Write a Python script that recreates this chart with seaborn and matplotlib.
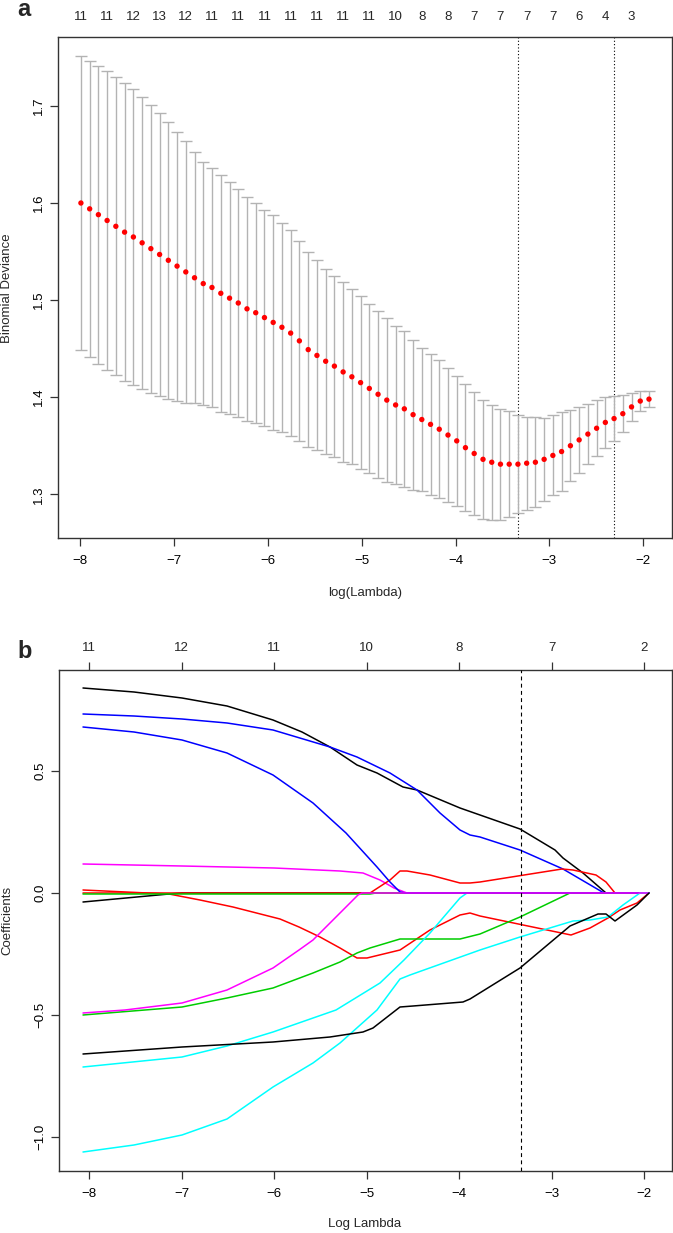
import matplotlib
matplotlib.use("Agg")
import matplotlib.pyplot as plt
import seaborn as sns

# ---- panel a: cross-validated binomial deviance ----
log_lambda = [-7.990, -7.897, -7.804, -7.711, -7.618, -7.525, -7.431, -7.338, -7.245, -7.152,
              -7.059, -6.966, -6.873, -6.780, -6.687, -6.594, -6.500, -6.407, -6.314, -6.221,
              -6.128, -6.035, -5.942, -5.849, -5.756, -5.663, -5.569, -5.476, -5.383, -5.290,
              -5.197, -5.104, -5.011, -4.918, -4.825, -4.732, -4.638, -4.545, -4.452, -4.359,
              -4.266, -4.173, -4.080, -3.987, -3.894, -3.801, -3.707, -3.614, -3.521, -3.428,
              -3.335, -3.242, -3.149, -3.056, -2.963, -2.870, -2.776, -2.683, -2.590, -2.497,
              -2.404, -2.311, -2.218, -2.125, -2.032, -1.939]
cv_mean = [1.600, 1.594, 1.588, 1.582, 1.576, 1.570, 1.565, 1.559, 1.553, 1.547,
           1.541, 1.535, 1.529, 1.523, 1.517, 1.513, 1.507, 1.502, 1.497, 1.491,
           1.487, 1.482, 1.477, 1.472, 1.466, 1.458, 1.449, 1.443, 1.437, 1.432,
           1.426, 1.421, 1.415, 1.409, 1.403, 1.397, 1.392, 1.388, 1.382, 1.377,
           1.372, 1.367, 1.361, 1.355, 1.348, 1.342, 1.336, 1.333, 1.331, 1.331,
           1.331, 1.332, 1.333, 1.336, 1.340, 1.344, 1.350, 1.356, 1.362, 1.368,
           1.374, 1.378, 1.383, 1.390, 1.396, 1.398]
cv_se = [0.1515, 0.1523, 0.1534, 0.1538, 0.1536, 0.1533, 0.1523, 0.1507, 0.1484, 0.1458,
         0.1424, 0.1386, 0.1346, 0.1295, 0.1254, 0.1231, 0.1220, 0.1196, 0.1175, 0.1151,
         0.1131, 0.1113, 0.1103, 0.1075, 0.1062, 0.1031, 0.1003, 0.0979, 0.0955, 0.0931,
         0.0923, 0.0900, 0.0894, 0.0873, 0.0859, 0.0842, 0.0814, 0.0801, 0.0773, 0.0739,
         0.0729, 0.0708, 0.0691, 0.0673, 0.0657, 0.0632, 0.0615, 0.0591, 0.0570, 0.0546,
         0.0508, 0.0481, 0.0461, 0.0426, 0.0412, 0.0405, 0.0368, 0.0343, 0.0312, 0.0286,
         0.0265, 0.0230, 0.0189, 0.0144, 0.0103, 0.0086]
nzero_top = [11, 11, 12, 13, 12, 11, 11, 11, 11, 11, 11, 11, 10, 8, 8, 7, 7, 7, 7, 6, 4, 3]
lambda_min = -3.335
lambda_1se = -2.311

# ---- panel b: coefficient paths, (log lambda, coefficient) ----
coef_black1 = [(-8.07, 0.840), (-7.52, 0.826), (-7.0, 0.799), (-6.51, 0.767), (-6.01, 0.710),
               (-5.70, 0.660), (-5.40, 0.601), (-5.11, 0.526), (-4.89, 0.492), (-4.61, 0.437),
               (-4.46, 0.423), (-3.99, 0.348), (-3.78, 0.321), (-3.34, 0.264), (-2.97, 0.178),
               (-2.88, 0.143), (-2.66, 0.085), (-2.41, 0.0), (-1.946, 0.0)]
coef_red1 = [(-8.07, 0.013), (-7.14, -0.004), (-6.80, -0.027), (-6.45, -0.055), (-5.94, -0.107),
             (-5.73, -0.137), (-5.51, -0.178), (-5.29, -0.225), (-5.11, -0.264), (-5.00, -0.266),
             (-4.64, -0.232), (-4.32, -0.150), (-3.99, -0.089), (-3.88, -0.082), (-3.78, -0.093),
             (-2.79, -0.171), (-2.59, -0.144), (-2.39, -0.103), (-2.26, -0.068), (-2.08, -0.041),
             (-1.946, 0.0)]
coef_green1 = [(-8.07, -0.497), (-7.0, -0.465), (-6.51, -0.430), (-6.01, -0.389), (-5.58, -0.328),
               (-5.29, -0.280), (-5.11, -0.246), (-4.97, -0.225), (-4.64, -0.189), (-3.99, -0.189),
               (-3.78, -0.167), (-3.34, -0.096), (-2.80, 0.0), (-1.946, 0.0)]
coef_blue1 = [(-8.07, 0.735), (-7.52, 0.726), (-7.0, 0.713), (-6.51, 0.696), (-6.01, 0.669),
              (-5.40, 0.601), (-5.11, 0.560), (-4.75, 0.492), (-4.46, 0.423), (-4.21, 0.328),
              (-3.99, 0.259), (-3.88, 0.239), (-3.78, 0.229), (-3.34, 0.177), (-2.88, 0.100),
              (-2.43, 0.0), (-1.946, 0.0)]
coef_cyan1 = [(-8.07, -0.713), (-7.0, -0.670), (-6.51, -0.627), (-6.01, -0.567), (-5.33, -0.478),
              (-4.86, -0.369), (-4.60, -0.273), (-4.32, -0.164), (-3.99, -0.020), (-3.92, 0.0),
              (-1.946, 0.0)]
coef_magenta1 = [(-8.07, 0.120), (-7.0, 0.112), (-6.0, 0.102), (-5.29, 0.093), (-5.04, 0.085),
                 (-4.86, 0.055), (-4.71, 0.020), (-4.57, 0.0), (-1.946, 0.0)]
coef_black2 = [(-8.07, -0.037), (-7.60, -0.020), (-7.14, -0.004), (-7.0, 0.0), (-1.946, 0.0)]
coef_red2 = [(-8.07, 0.0), (-4.97, 0.0), (-4.75, 0.055), (-4.64, 0.091), (-4.57, 0.093),
             (-4.32, 0.075), (-3.99, 0.043), (-3.88, 0.042), (-3.78, 0.046), (-2.89, 0.098),
             (-2.77, 0.095), (-2.52, 0.075), (-2.41, 0.048), (-2.32, 0.0), (-1.946, 0.0)]
coef_green2 = [(-8.07, -0.003), (-4.97, -0.004), (-4.90, 0.0), (-1.946, 0.0)]
coef_blue2 = [(-8.07, 0.680), (-7.52, 0.662), (-7.0, 0.628), (-6.51, 0.574), (-6.01, 0.485),
              (-5.58, 0.369), (-5.22, 0.246), (-4.89, 0.109), (-4.75, 0.048), (-4.64, 0.007),
              (-4.59, 0.0), (-1.946, 0.0)]
coef_cyan2 = [(-8.07, -1.061), (-7.52, -1.031), (-7.0, -0.990), (-6.51, -0.925), (-6.01, -0.793),
              (-5.58, -0.697), (-5.29, -0.615), (-4.89, -0.478), (-4.64, -0.352), (-4.53, -0.335),
              (-3.78, -0.232), (-3.34, -0.178), (-2.77, -0.112), (-2.59, -0.109), (-2.39, -0.096),
              (-2.23, -0.048), (-2.05, 0.0), (-1.946, 0.0)]
coef_magenta2 = [(-8.07, -0.489), (-7.61, -0.478), (-7.0, -0.451), (-6.51, -0.396), (-6.01, -0.307),
                 (-5.73, -0.232), (-5.58, -0.191), (-5.40, -0.123), (-5.22, -0.055), (-5.09, -0.007),
                 (-5.05, 0.0), (-1.946, 0.0)]
coef_black3 = [(-8.07, -0.659), (-7.0, -0.629), (-6.01, -0.608), (-5.40, -0.588), (-5.04, -0.567),
               (-4.93, -0.553), (-4.64, -0.467), (-4.50, -0.462), (-3.96, -0.444), (-3.88, -0.434),
               (-3.34, -0.307), (-2.80, -0.134), (-2.50, -0.086), (-2.41, -0.086), (-2.32, -0.112),
               (-2.08, -0.048), (-1.946, 0.0)]
bottom_ticks = [-8, -7, -6, -5, -4, -3, -2]
df_top = [11, 12, 11, 10, 8, 7, 2]

# R's default palette order, cycled over the 13 columns
paths = [
    (coef_black1, "black"), (coef_red1, "#FF0000"), (coef_green1, "#00CD00"),
    (coef_blue1, "#0000FF"), (coef_cyan1, "#00FFFF"), (coef_magenta1, "#FF00FF"),
    (coef_black2, "black"), (coef_red2, "#FF0000"), (coef_green2, "#00CD00"),
    (coef_blue2, "#0000FF"), (coef_cyan2, "#00FFFF"), (coef_magenta2, "#FF00FF"),
    (coef_black3, "black"),
]

sns.set_theme(style="ticks")
plt.rcParams["font.family"] = ["Liberation Sans", "DejaVu Sans"]
plt.rcParams["font.size"] = 9

fig = plt.figure(figsize=(6.73, 12.33), dpi=100)
spine_col = "#333333"


def style_axes(ax):
    for s in ax.spines.values():
        s.set_visible(True)
        s.set_color(spine_col)
        s.set_linewidth(1.0)
    ax.tick_params(axis="both", direction="out", length=5.5, width=0.9,
                   color=spine_col, labelsize=9.5, labelcolor="black")
    ax.tick_params(axis="x", pad=7)
    ax.tick_params(axis="y", pad=4, labelrotation=90)
    for lbl in ax.get_yticklabels():
        lbl.set_va("center")


# ---------------- panel a ----------------
ax1 = fig.add_axes([0.0862, 0.5637, 0.9123, 0.4063])
ax1.errorbar(log_lambda, cv_mean, yerr=cv_se, fmt="none", ecolor="#B3B3B3",
             elinewidth=1.0, capsize=4.0, capthick=1.0, zorder=2)
sns.scatterplot(x=log_lambda, y=cv_mean, color="#FF0000", s=15, linewidth=0,
                edgecolor="none", zorder=3, ax=ax1, legend=False)
for v in (lambda_min, lambda_1se):
    ax1.axvline(v, color="black", lw=0.8, linestyle=(0, (1, 2)), zorder=1)
ax1.set_xlim(-8.234, -1.694)
ax1.set_ylim(1.255, 1.771)
ax1.set_xticks(bottom_ticks)
ax1.set_xticklabels([f"\u2212{abs(t)}" for t in bottom_ticks])
ax1.set_yticks([1.3, 1.4, 1.5, 1.6, 1.7])
ax1.set_yticklabels(["1.3", "1.4", "1.5", "1.6", "1.7"])
ax1.set_xlabel("")
ax1.set_ylabel("")
style_axes(ax1)

top1 = ax1.twiny()
top1.set_xlim(ax1.get_xlim())
top1.set_xticks(log_lambda[::3])
top1.set_xticklabels([str(n) for n in nzero_top])
top1.tick_params(axis="x", length=0, pad=10, labelsize=9.5)
for s in top1.spines.values():
    s.set_visible(False)

fig.text(365 / 673, 1 - 593 / 1233, "log(Lambda)", ha="center", va="center", fontsize=9.5)
fig.text(7 / 673, 1 - 288 / 1233, "Binomial Deviance", ha="center", va="center",
         rotation=90, fontsize=9.5)
fig.text(17 / 673, 1 - 16 / 1233, "a", ha="left", va="baseline", fontsize=17,
         fontweight="bold")

# ---------------- panel b ----------------
ax2 = fig.add_axes([0.0881, 0.0503, 0.9104, 0.4063])
for pts, col in paths:
    xs = [p[0] for p in pts]
    ys = [p[1] for p in pts]
    sns.lineplot(x=xs, y=ys, color=col, lw=1.1, sort=False, estimator=None, ax=ax2)
for ln in ax2.lines:
    ln.set_snap(True)
ax2.axvline(lambda_min, color="black", lw=0.8, linestyle=(0, (3.5, 3)), zorder=5)
ax2.set_xlim(-8.324, -1.70)
ax2.set_ylim(-1.138, 0.915)
ax2.set_xticks(bottom_ticks)
ax2.set_xticklabels([f"\u2212{abs(t)}" for t in bottom_ticks])
ax2.set_yticks([-1.0, -0.5, 0.0, 0.5])
ax2.set_yticklabels(["\u22121.0", "\u22120.5", "0.0", "0.5"])
ax2.set_xlabel("")
ax2.set_ylabel("")
style_axes(ax2)

top2 = ax2.twiny()
top2.set_xlim(ax2.get_xlim())
top2.set_xticks(bottom_ticks)
top2.set_xticklabels([str(n) for n in df_top])
top2.tick_params(axis="x", direction="out", length=5.5, width=0.9, color=spine_col,
                 pad=6, labelsize=9.5)
for s in top2.spines.values():
    s.set_visible(False)

fig.text(365 / 673, 1 - 1224 / 1233, "Log Lambda", ha="center", va="center", fontsize=9.5)
fig.text(7 / 673, 1 - 920 / 1233, "Coefficients", ha="center", va="center",
         rotation=90, fontsize=9.5)
fig.text(17 / 673, 1 - 658 / 1233, "b", ha="left", va="baseline", fontsize=17,
         fontweight="bold")

fig.savefig("out.png", dpi=100)
